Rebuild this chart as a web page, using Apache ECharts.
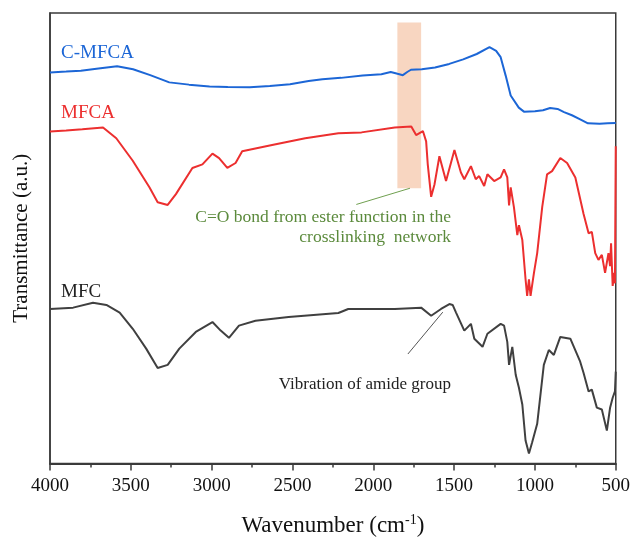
<!DOCTYPE html>
<html>
<head>
<meta charset="utf-8">
<script src="https://cdn.jsdelivr.net/npm/echarts@6/dist/echarts.min.js"></script>
<style>html,body{margin:0;padding:0;background:#fff;}#c{width:633px;height:542px;}</style>
</head>
<body>
<div id="c"></div>
<script>
// Wavenumber ticks
const xTicks = [4000, 3500, 3000, 2500, 2000, 1500, 1000, 500];

// C-MFCA (blue)
const cmfcaWn = [4000, 3900, 3809, 3700, 3585, 3486, 3380, 3262, 3140, 3013, 2900, 2764, 2640, 2515, 2400, 2315, 2200, 2066, 1950, 1892, 1850, 1817, 1790, 1767, 1700, 1618, 1530, 1444, 1360, 1281, 1240, 1212, 1181, 1150, 1100, 1068, 1000, 950, 906, 860, 820, 771, 720, 672, 600, 550, 500];
const cmfcaT  = [86.8, 87.0, 87.2, 87.7, 88.2, 87.5, 86.2, 84.6, 84.1, 83.7, 83.6, 83.5, 83.8, 84.2, 84.9, 85.3, 85.6, 86.1, 86.4, 86.9, 86.5, 86.2, 86.9, 87.4, 87.5, 87.9, 88.7, 89.7, 90.9, 92.4, 91.6, 90.2, 86.1, 81.7, 79.0, 78.1, 78.2, 78.4, 78.9, 78.7, 78.0, 77.3, 76.4, 75.5, 75.4, 75.5, 75.6];

// MFCA (red)
const mfcaWn = [4000, 3900, 3800, 3672, 3590, 3488, 3385, 3334, 3272, 3221, 3119, 3057, 2995, 2954, 2903, 2852, 2811, 2626, 2421, 2216, 2073, 1867, 1765, 1735, 1693, 1673, 1663, 1642, 1621, 1591, 1550, 1498, 1458, 1437, 1396, 1366, 1345, 1314, 1294, 1252, 1212, 1191, 1171, 1160, 1150, 1130, 1109, 1099, 1078, 1058, 1048, 1037, 1027, 1006, 986, 955, 925, 894, 843, 801, 750, 699, 668, 648, 627, 607, 586, 566, 545, 535, 529, 519, 510, 505, 500];
const mfcaT  = [73.7, 73.9, 74.2, 74.6, 72.2, 67.2, 61.3, 58.0, 57.4, 59.8, 65.6, 66.4, 68.8, 67.8, 65.6, 66.7, 69.3, 70.7, 72.2, 73.3, 73.5, 74.6, 74.8, 72.9, 73.8, 71.5, 66.4, 59.2, 62.0, 68.2, 62.7, 69.6, 64.6, 63.1, 66.0, 63.1, 63.8, 61.6, 64.2, 62.7, 63.5, 65.3, 63.5, 57.3, 61.3, 56.9, 50.7, 52.9, 49.6, 40.9, 37.2, 40.9, 37.2, 42.3, 46.7, 56.9, 64.2, 64.9, 67.8, 66.7, 63.5, 55.4, 51.1, 51.4, 46.7, 45.2, 46.3, 42.3, 46.7, 43.8, 48.9, 39.4, 42.3, 40.0, 70.4];

// MFC (dark grey)
const mfcWn = [4000, 3857, 3734, 3651, 3569, 3488, 3405, 3334, 3272, 3200, 3098, 2995, 2944, 2893, 2831, 2729, 2524, 2216, 2155, 1970, 1867, 1704, 1642, 1581, 1529, 1509, 1488, 1437, 1396, 1375, 1324, 1294, 1212, 1191, 1171, 1160, 1140, 1119, 1099, 1078, 1058, 1037, 1017, 986, 945, 914, 883, 843, 781, 720, 699, 668, 648, 617, 586, 555, 535, 519, 505, 500];
const mfcT  = [34.3, 34.6, 35.7, 35.2, 33.5, 29.9, 25.5, 21.2, 21.9, 25.5, 29.2, 31.4, 29.5, 27.9, 30.6, 31.7, 32.5, 33.4, 34.3, 34.3, 34.3, 34.6, 32.8, 34.3, 35.4, 35.2, 33.5, 29.5, 31.0, 27.7, 25.9, 28.8, 31.0, 30.6, 27.0, 21.9, 25.9, 19.7, 16.8, 13.1, 5.1, 2.2, 4.7, 8.8, 21.9, 25.2, 24.1, 28.1, 27.7, 22.6, 20.1, 16.0, 16.4, 12.4, 12.0, 7.3, 12.4, 14.6, 16.0, 20.4];

// annotation anchors (data coords)
const esterBand = [1851, 1704, 61.1, 97.9];
const esterLeader = [[2105, 57.5], [1773, 61.1]];
const amideLeader = [[1786, 24.3], [1570, 33.6]];

const zip = (a, b) => a.map((v, i) => [v, b[i]]);
const serif = '"Liberation Serif", "DejaVu Serif", serif';

const chart = echarts.init(document.getElementById('c'));
chart.setOption({
  animation: false,
  backgroundColor: '#fff',
  grid: { left: 50, right: 14, top: 13, bottom: 72, show: true, borderColor: '#3a3a3a', borderWidth: 1.5, backgroundColor: 'transparent' },
  xAxis: {
    type: 'value', min: 500, max: 4000, interval: 500, inverse: true,
    axisLine: { show: true, lineStyle: { color: '#3a3a3a', width: 2 } },
    axisTick: { show: true, length: 7, lineStyle: { color: '#3a3a3a', width: 1.5 } },
    minorTick: { show: true, splitNumber: 2, length: 4, lineStyle: { color: '#3a3a3a', width: 1.5 } },
    splitLine: { show: false },
    axisLabel: { color: '#111', fontFamily: serif, fontSize: 19, margin: 13,
      formatter: v => xTicks.includes(v) ? String(v) : '' },
    name: '{a|Wavenumber (cm}{s|-1}{a|)}',
    nameLocation: 'middle', nameGap: 50,
    nameTextStyle: { rich: {
      a: { fontFamily: serif, fontSize: 23, color: '#111' },
      s: { fontFamily: serif, fontSize: 14, color: '#111', verticalAlign: 'top', padding: [0, 0, 10, 0] }
    } }
  },
  yAxis: {
    type: 'value', min: 0, max: 100,
    axisLine: { show: true, lineStyle: { color: '#3a3a3a', width: 1.5 } },
    axisTick: { show: false }, axisLabel: { show: false }, splitLine: { show: false },
    name: 'Transmittance (a.u.)', nameLocation: 'middle', nameGap: 18,
    nameTextStyle: { fontFamily: serif, fontSize: 21, color: '#111' }
  },
  series: [
    { type: 'line', data: [], symbol: 'none',
      markArea: { silent: true, itemStyle: { color: '#f8d6c1' },
        data: [[{ xAxis: esterBand[0], yAxis: esterBand[2] }, { xAxis: esterBand[1], yAxis: esterBand[3] }]] },
      markLine: { silent: true, symbol: 'none', label: { show: false },
        lineStyle: { color: '#70a050', width: 1, type: 'solid' },
        data: [[{ coord: esterLeader[0] }, { coord: esterLeader[1] }]] } },
    { type: 'line', zlevel: 1, data: zip(mfcWn, mfcT), symbol: 'none', lineStyle: { color: '#404040', width: 2 },
      markLine: { silent: true, symbol: 'none', label: { show: false },
        lineStyle: { color: '#555', width: 1, type: 'solid' },
        data: [[{ coord: amideLeader[0] }, { coord: amideLeader[1] }]] } },
    { type: 'line', zlevel: 1, data: zip(cmfcaWn, cmfcaT), symbol: 'none', lineStyle: { color: '#1c66d6', width: 2 } },
    { type: 'line', zlevel: 1, data: zip(mfcaWn, mfcaT), symbol: 'none', lineStyle: { color: '#ec2f2f', width: 2 } }
  ],
  graphic: [
    { type: 'text', x: 61, y: 53, style: { text: 'C-MFCA', fill: '#1c66d6', font: '19px ' + serif, textVerticalAlign: 'middle' } },
    { type: 'text', x: 61, y: 113, style: { text: 'MFCA', fill: '#ec2f2f', font: '19px ' + serif, textVerticalAlign: 'middle' } },
    { type: 'text', x: 61, y: 292, style: { text: 'MFC', fill: '#222', font: '19px ' + serif, textVerticalAlign: 'middle' } },
    { type: 'text', x: 451, y: 217, style: { text: 'C=O bond from ester function in the', fill: '#5b8a3c', font: '17.5px ' + serif, textAlign: 'right', textVerticalAlign: 'middle' } },
    { type: 'text', x: 451, y: 237, style: { text: 'crosslinking  network', fill: '#5b8a3c', font: '17.5px ' + serif, textAlign: 'right', textVerticalAlign: 'middle' } },
    { type: 'text', x: 451, y: 385, style: { text: 'Vibration of amide group', fill: '#222', font: '17px ' + serif, textAlign: 'right', textVerticalAlign: 'middle' } }
  ]
});
</script>
</body>
</html>
